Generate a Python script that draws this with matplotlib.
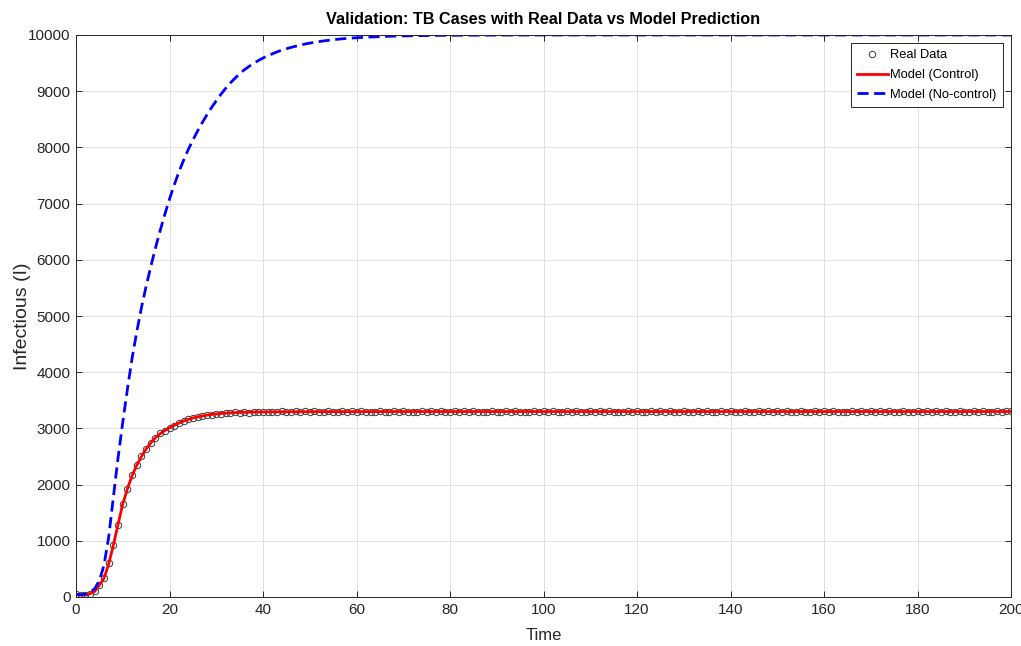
import matplotlib
matplotlib.use("Agg")
import matplotlib.pyplot as plt
import numpy as np

plt.rcParams['font.family'] = ['Liberation Sans', 'DejaVu Sans']

# real data (one point per time step 0..200)
real_data = [
    50, 30, 38, 62, 98, 205, 330, 600, 930, 1290, 1660, 1920, 2165, 2340, 2505, 2630, 2745, 2830, 2910, 2960,
    3015, 3050, 3100, 3125, 3165, 3180, 3210, 3220, 3240, 3245, 3262, 3260, 3275, 3270, 3284, 3280, 3290, 3282, 3294, 3286,
    3295,
    3292, 3300, 3296, 3304, 3293, 3299, 3305, 3294, 3301, 3297, 3306, 3295, 3300, 3303, 3292, 3298, 3305, 3296, 3301, 3294,
    3303, 3297, 3300, 3293, 3306, 3299, 3295, 3302, 3298, 3304, 3293, 3300, 3297, 3305, 3296, 3301, 3294, 3303, 3299, 3292,
    3305, 3298, 3301, 3295, 3304, 3297, 3300, 3293, 3306, 3299, 3296, 3302, 3294, 3303, 3298, 3300, 3292, 3305, 3297, 3301,
    3295, 3304, 3299, 3293, 3302, 3296, 3306, 3300, 3294, 3303, 3297, 3301, 3292, 3305, 3298, 3300, 3295, 3304, 3296, 3302,
    3299, 3293, 3306, 3297, 3301, 3294, 3303, 3300, 3296, 3305, 3292, 3298, 3302, 3295, 3304, 3299, 3297, 3301, 3293, 3306,
    3300, 3296, 3303, 3294, 3299, 3305, 3297, 3302, 3292, 3301, 3298, 3304, 3295, 3300, 3306, 3293, 3299, 3303, 3296, 3301,
    3294, 3305, 3298, 3300, 3292, 3304, 3297, 3302, 3295, 3306, 3299, 3301, 3293, 3303, 3296, 3300, 3305, 3294, 3298, 3302,
    3297, 3304, 3292, 3301, 3299, 3306, 3295, 3300, 3303, 3296, 3298, 3305, 3293, 3302, 3300, 3294, 3304, 3297, 3301, 3308,
]
t_real = np.arange(len(real_data))

# model with control
t_ctrl = list(range(0, 51)) + [60, 70, 80, 90, 100, 110, 120, 130, 140, 150, 160, 170, 180, 190, 200]
I_ctrl = [
    50, 35, 35, 60, 100, 210, 335, 590, 925, 1295, 1655, 1925, 2160, 2345, 2500, 2635, 2740, 2835, 2905, 2962,
    3010, 3055, 3095, 3130, 3160, 3185, 3205, 3222, 3236, 3248, 3258, 3266, 3272, 3277, 3281, 3284, 3287, 3289, 3291, 3292,
    3293, 3294, 3294, 3295, 3295, 3296, 3296, 3297, 3297, 3298, 3298,
    3299, 3300, 3300, 3300, 3300, 3300, 3300, 3300, 3300, 3300, 3300, 3300, 3300, 3300, 3300,
]

# model without control
t_noctrl = list(range(0, 61)) + [62, 64, 66, 68, 70, 75, 80, 90, 100, 120, 140, 160, 180, 200]
I_noctrl = [
    50, 40, 50, 80, 150, 290, 570, 1070, 1780, 2480, 3110, 3700, 4250, 4720, 5150, 5530, 5880, 6210, 6520, 6810,
    7080, 7330, 7560, 7770, 7960, 8130, 8290, 8440, 8580, 8710, 8830, 8945, 9050, 9145, 9230, 9310, 9380, 9440, 9495, 9545,
    9590, 9630, 9665, 9700, 9730, 9755, 9780, 9800, 9820, 9840, 9855, 9870, 9883, 9895, 9905, 9915, 9925, 9933, 9940, 9946,
    9951, 9960, 9968, 9975, 9980, 9984, 9991, 9995, 9998, 10000, 10000, 10000, 10000, 10000, 10000,
]

fig = plt.figure(figsize=(10.21, 6.46), dpi=100)
ax = fig.add_axes([76/1021, 49/646, 935/1021, 562/646])

ax.plot(t_real, real_data, 'o', mfc='none', mec='#3a3a3a', ms=4.6, mew=0.7, label='Real Data')
ax.plot(t_ctrl, I_ctrl, color='#ff0000', lw=2, label='Model (Control)')
ax.plot(t_noctrl, I_noctrl, color='#0000ff', lw=2, ls=(0, (4, 2)), label='Model (No-control)')

ax.set_xlim(0, 200)
ax.set_ylim(0, 10000)
ax.set_xticks(np.arange(0, 201, 20))
ax.set_yticks(np.arange(0, 10001, 1000))
ax.grid(True, color='#e0e0e0', lw=0.7)
ax.set_axisbelow(True)
ax.tick_params(direction='in', top=True, right=True, length=4, width=0.7,
               labelsize=11, colors='#262626', pad=4)
for s in ax.spines.values():
    s.set_color('#262626')
    s.set_linewidth(0.7)

ax.set_xlabel('Time', fontsize=12, color='#262626', labelpad=8)
ax.set_ylabel('Infectious (I)', fontsize=14, color='#262626', labelpad=-2.5)
ax.set_title('Validation: TB Cases with Real Data vs Model Prediction',
             fontsize=11.7, fontweight='bold', pad=8)

leg = ax.legend(loc='upper right', frameon=True, fancybox=False,
                framealpha=1, edgecolor='#262626', borderaxespad=0.65,
                handlelength=2.4, handletextpad=0.2, borderpad=0.45, labelspacing=0.6,
                prop={'size': 9.3})
leg.get_frame().set_linewidth(0.7)

fig.savefig('out.png', dpi=100)
